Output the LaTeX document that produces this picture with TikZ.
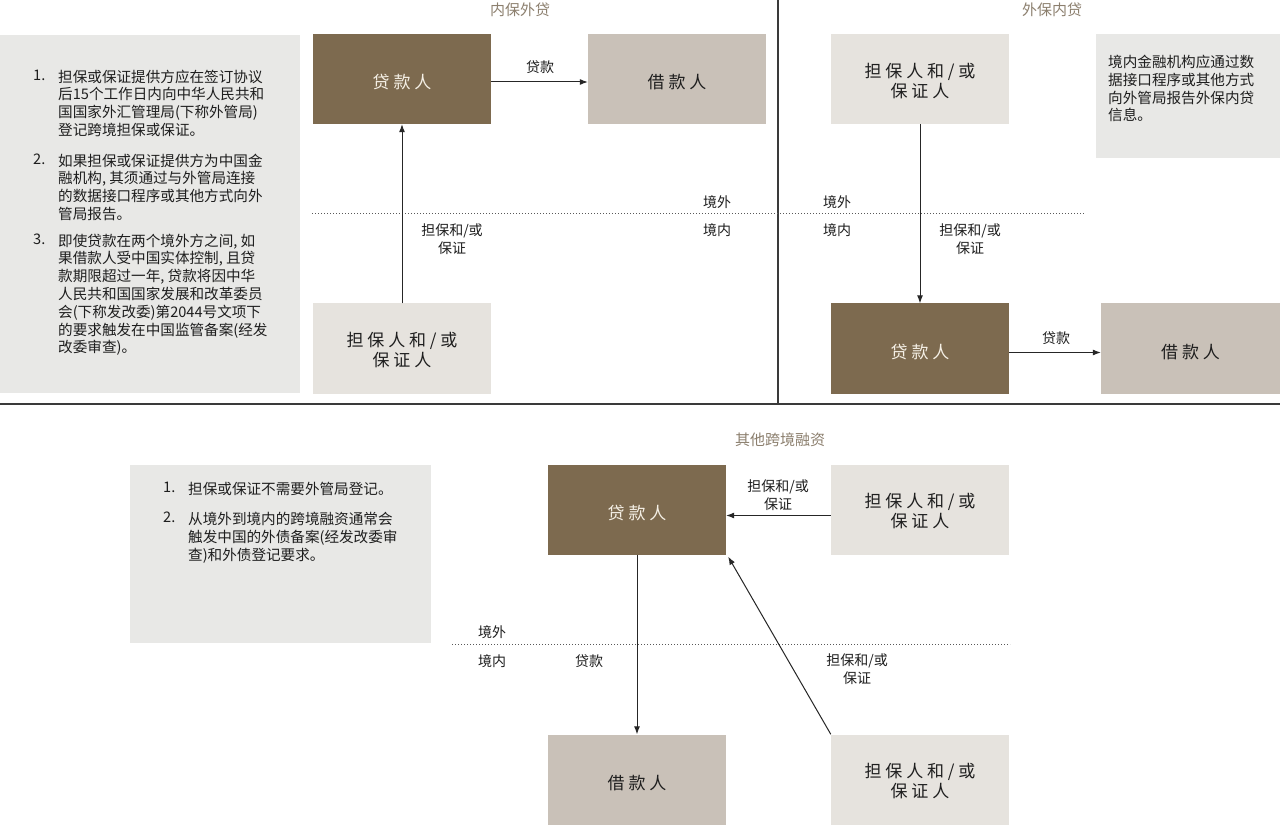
\documentclass[tikz,border=0pt]{standalone}
\usepackage{fontspec}
\setmainfont{Noto Sans CJK SC}
\usetikzlibrary{arrows.meta}
\definecolor{darkbr}{HTML}{7D6A4F}
\definecolor{midgr}{HTML}{C9C1B8}
\definecolor{lightgr}{HTML}{E6E3DE}
\definecolor{notegr}{HTML}{E8E8E6}
\definecolor{titlec}{HTML}{8C7F6E}
\definecolor{txt}{HTML}{1E1E1E}
\definecolor{boxw}{HTML}{F5F0E6}
\definecolor{divc}{HTML}{3A3A3A}
\newcommand\boxlbl[2][-5.5pt]{\raisebox{#1}[\height][\depth]{\begin{tabular}{@{}c@{}}#2\end{tabular}}}
\begin{document}
\begin{tikzpicture}[x=1pt,y=-1pt,
  base/.style={rectangle,inner sep=0pt,minimum width=178pt,minimum height=90pt,align=center,font=\fontsize{17}{20}\selectfont},
  darkbox/.style={base,fill=darkbr,text=boxw},
  midbox/.style={base,fill=midgr,text=txt},
  lightbox/.style={base,fill=lightgr,text=txt},
  notebox/.style={rectangle,inner sep=0pt,fill=notegr},
  notetxt/.style={inner sep=0pt,anchor=north west,align=left,text=txt,font=\fontsize{14.6}{17.8}\selectfont},
  lbl/.style={inner sep=0pt,align=center,text=txt,font=\fontsize{14}{17.5}\selectfont},
  ttl/.style={inner sep=0pt,text=titlec,font=\fontsize{15}{18}\selectfont},
  conn/.style={draw=black!85,line width=1pt,-{Latex[length=8pt,width=6pt]}},
  divider/.style={draw=divc,line width=1.5pt},
  border/.style={draw=black!65,line width=1pt,dash pattern=on 1pt off 2pt}
]
\useasboundingbox[fill=white] (0,0) rectangle (1280,826);

% dividers
\draw[divider] (778,0) -- (778,404);
\draw[divider] (0,404) -- (1280,404);

% ---------- 内保外贷 ----------
\node[ttl] (t1) at (520,10) {内保外贷};
\node[notebox,minimum width=300pt,minimum height=358pt] (n1) at (150,214) {};
\node[notetxt] (n1a) at (33,69.5) {1.};
\node[notetxt] (n1b) at (58,69.5) {担保或保证提供方应在签订协议\\后15个工作日内向中华人民共和\\国国家外汇管理局(下称外管局)\\登记跨境担保或保证。};
\node[notetxt] (n1c) at (33,153.5) {2.};
\node[notetxt] (n1d) at (58,153.5) {如果担保或保证提供方为中国金\\融机构, 其须通过与外管局连接\\的数据接口程序或其他方式向外\\管局报告。};
\node[notetxt] (n1e) at (33,233.5) {3.};
\node[notetxt] (n1f) at (58,233.5) {即使贷款在两个境外方之间, 如\\果借款人受中国实体控制, 且贷\\款期限超过一年, 贷款将因中华\\人民共和国国家发展和改革委员\\会(下称发改委)第2044号文项下\\的要求触发在中国监管备案(经发\\改委审查)。};

\node[darkbox] (l1) at (402,79) {\boxlbl{贷 款 人}};
\node[midbox] (b1) at (677,79) {\boxlbl{借 款 人}};
\node[lightbox] (g1) at (402,348.5) {\boxlbl[-4pt]{担 保 人 和 / 或\\保 证 人}};

\draw[border] (312,214) -- (1085,214);
\node[lbl] (o1) at (717,202) {境外};
\node[lbl] (i1) at (717,230) {境内};

\draw[conn] ([yshift=-3pt]l1.east) -- ([yshift=-3pt]b1.west);
\node[lbl] (c1) at (540,67) {贷款};
\draw[conn] (g1) -- (l1);
\node[lbl] (c2) at (452,239) {担保和/或\\保证};

% ---------- 外保内贷 ----------
\node[ttl] (t2) at (1052,10) {外保内贷};
\node[lightbox] (g2) at (920,79) {\boxlbl[-4pt]{担 保 人 和 / 或\\保 证 人}};
\node[notebox,minimum width=184pt,minimum height=124pt] (n2) at (1188,96) {};
\node[notetxt] (n2a) at (1108,55) {境内金融机构应通过数\\据接口程序或其他方式\\向外管局报告外保内贷\\信息。};
\node[darkbox] (l2) at (920,348.5) {\boxlbl{贷 款 人}};
\node[midbox,minimum width=179pt] (b2) at (1190.5,348.5) {\boxlbl{借 款 人}};

\node[lbl] (o2) at (837,202) {境外};
\node[lbl] (i2) at (837,230) {境内};

\draw[conn] (g2) -- (l2);
\node[lbl] (c3) at (970,239) {担保和/或\\保证};
\draw[conn] ([yshift=-4pt]l2.east) -- ([yshift=-4pt]b2.west);
\node[lbl] (c4) at (1056,338) {贷款};

% ---------- 其他跨境融资 ----------
\node[ttl] (t3) at (780,440) {其他跨境融资};
\node[notebox,minimum width=301pt,minimum height=178pt] (n3) at (280.5,554) {};
\node[notetxt] (n3a) at (163,482) {1.};
\node[notetxt] (n3b) at (188,482) {担保或保证不需要外管局登记。};
\node[notetxt] (n3c) at (163,512) {2.};
\node[notetxt] (n3d) at (188,512) {从境外到境内的跨境融资通常会\\触发中国的外债备案(经发改委审\\查)和外债登记要求。};

\node[darkbox] (l3) at (637,509.5) {\boxlbl{贷 款 人}};
\node[lightbox] (g3) at (920,509.5) {\boxlbl[-4pt]{担 保 人 和 / 或\\保 证 人}};
\node[midbox] (b3) at (637,779.5) {\boxlbl{借 款 人}};
\node[lightbox] (g4) at (920,779.5) {\boxlbl[-4pt]{担 保 人 和 / 或\\保 证 人}};

\draw[border] (452,644) -- (1010,644);
\node[lbl] (o3) at (492,632) {境外};
\node[lbl] (i3) at (492,661) {境内};

\draw[conn] ([yshift=-6pt]g3.west) -- ([yshift=-6pt]l3.east);
\node[lbl] (c5) at (778,495) {担保和/或\\保证};
\draw[conn] (g4.north west) -- ([xshift=2pt,yshift=-2pt]l3.south east);
\node[lbl] (c6) at (857,669) {担保和/或\\保证};
\draw[conn] (l3) -- (b3);
\node[lbl] (c7) at (589,661) {贷款};
\end{tikzpicture}
\end{document}
